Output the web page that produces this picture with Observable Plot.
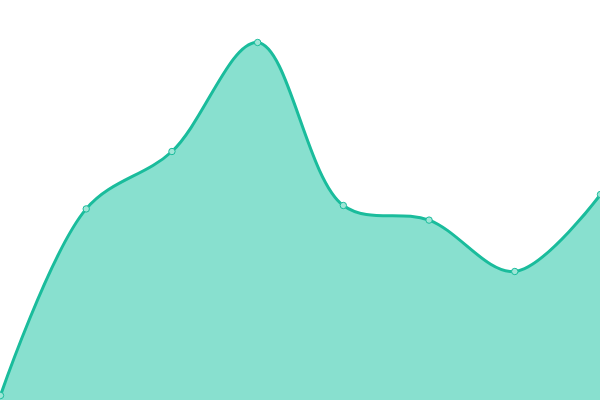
<!DOCTYPE html>
<html><head><meta charset="utf-8">
<script src="https://cdn.jsdelivr.net/npm/d3@7"></script>
<script src="https://cdn.jsdelivr.net/npm/@observablehq/plot@0.6"></script>
<style>html,body{margin:0;padding:0;background:#fff;overflow:hidden}</style>
</head><body><div id="chart"></div>
<script>
const xs = [0, 1, 2, 3, 4, 5, 6, 7];
const values = [1.25, 47.9, 62.25, 89.5, 48.75, 45.1, 32.25, 51.5];
const data = xs.map((x, i) => ({x, y: values[i]}));
const chart = Plot.plot({
  width: 600, height: 400,
  marginTop: 0, marginBottom: 0, marginLeft: 0, marginRight: 0,
  x: {domain: [0, 7], range: [0, 600], axis: null},
  y: {domain: [0, 100], range: [400, 0], axis: null},
  marks: [
    Plot.areaY(data, {x: "x", y: "y", curve: "catmull-rom", fill: "#88e0cf"}),
    Plot.lineY(data, {x: "x", y: "y", curve: "catmull-rom", stroke: "#1abc9c", strokeWidth: 3}),
    Plot.dot(data, {x: "x", y: "y", r: 3.2, fill: "#9fe6d7", stroke: "#1abc9c", strokeWidth: 1})
  ]
});
document.getElementById("chart").appendChild(chart);
</script></body></html>
